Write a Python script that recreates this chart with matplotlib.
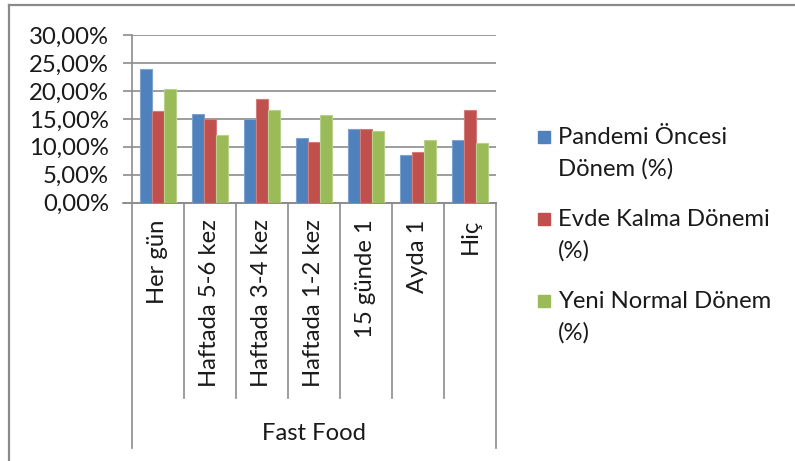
import numpy as np
import matplotlib
matplotlib.use("Agg")
import matplotlib.pyplot as plt
from matplotlib.lines import Line2D
from matplotlib.patches import Rectangle

# data
categories = ["Her gün", "Haftada 5-6 kez", "Haftada 3-4 kez", "Haftada 1-2 kez",
              "15 günde 1", "Ayda 1", "Hiç"]
pandemi_oncesi = [23.9, 15.9, 14.9, 11.5, 13.2, 8.6, 11.3]
evde_kalma = [16.4, 14.9, 18.6, 10.8, 13.2, 9.0, 16.6]
yeni_normal = [20.3, 12.2, 16.6, 15.6, 12.9, 11.3, 10.6]
series_labels = [["Pandemi Öncesi", "Dönem (%)"],
                 ["Evde Kalma Dönemi", "(%)"],
                 ["Yeni Normal Dönem", "(%)"]]
group_label = "Fast Food"
y_ticks = [0, 5, 10, 15, 20, 25, 30]

colors = ["#4F81BD", "#C0504D", "#9BBB59"]
edges = ["#7FA3D1", "#D47C7A", "#B7D08A"]
grid_c = "#8C8C8C"
font = "Lato"
fs = 17.2

W, H = 795, 461
fig = plt.figure(figsize=(W / 100, H / 100), dpi=100)

# plot area in pixels
x0, x1, y_top, y_zero = 132, 496, 35, 202.7
ax = fig.add_axes([x0 / W, (H - y_zero) / H, (x1 - x0) / W, (y_zero - y_top) / H])

x = np.arange(len(categories))
bw = 0.225
for i, vals in enumerate([pandemi_oncesi, evde_kalma, yeni_normal]):
    ax.bar(x + (i - 1) * bw, vals, width=bw, color=colors[i], edgecolor=edges[i],
           linewidth=0.8, zorder=3)

ax.set_xlim(-0.5, len(categories) - 0.5)
ax.set_ylim(0, 30)
ax.set_yticks(y_ticks)
ax.set_yticklabels([f"{v:.2f}%".replace(".", ",") for v in y_ticks],
                   fontfamily=font, fontsize=fs, color="#1a1a1a")
ax.tick_params(axis="y", length=6.7, color=grid_c, width=1.2, pad=10)
ax.tick_params(axis="x", length=0, labelbottom=False)
ax.yaxis.grid(True, color=grid_c, linewidth=1.2, zorder=0)
for s in ["top", "right"]:
    ax.spines[s].set_visible(False)
for s in ["left", "bottom"]:
    ax.spines[s].set_color(grid_c)
    ax.spines[s].set_linewidth(1.2)

# category labels and dividers below the axis
ah = y_zero - y_top
tr = ax.get_xaxis_transform()
for i, cat in enumerate(categories):
    ax.text(i, -(219 - y_zero) / ah, cat, rotation=90, ha="center", va="top",
            transform=tr, fontfamily=font, fontsize=fs, color="#1a1a1a")
for b in np.arange(-0.5, len(categories), 1.0):
    low = 448 if b in (-0.5, len(categories) - 0.5) else 398
    ax.add_line(Line2D([b, b], [0, -(low - y_zero) / ah], transform=tr,
                       color=grid_c, linewidth=1.2, clip_on=False))
ax.add_line(Line2D([-0.5 - 9 / 52, len(categories) - 0.5], [0, 0], transform=tr,
                   color=grid_c, linewidth=1.2, clip_on=False))
ax.text((len(categories) - 1) / 2, -(433 - y_zero) / ah, group_label, ha="center",
        va="center", transform=tr, fontfamily=font, fontsize=fs, color="#1a1a1a")

# legend
for i, lines in enumerate(series_labels):
    yc = 137 + i * 82
    fig.patches.append(Rectangle((538 / W, 1 - (yc + 6) / H), 12 / W, 12 / H,
                                 transform=fig.transFigure, color=colors[i]))
    for j, line in enumerate(lines):
        fig.text(558 / W, 1 - (yc + j * 31.5) / H, line, ha="left", va="center",
                 fontfamily=font, fontsize=fs, color="#1a1a1a")

# outer chart frame (only left and top visible in the crop)
fig.add_artist(Line2D([8.5 / W, 8.5 / W], [0, 1 - 5 / H], transform=fig.transFigure,
                      color="#8a8a8a", linewidth=1.6))
fig.add_artist(Line2D([8.5 / W, 1], [1 - 5 / H, 1 - 5 / H], transform=fig.transFigure,
                      color="#8a8a8a", linewidth=1.6))

fig.savefig("out.png", dpi=100)
